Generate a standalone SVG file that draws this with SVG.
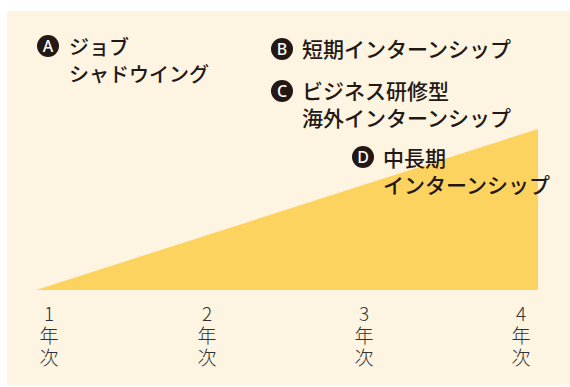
<svg xmlns="http://www.w3.org/2000/svg" width="570" height="387" viewBox="0 0 570 387">
<style>
.lbl{font-family:"Noto Sans CJK JP","Noto Sans",sans-serif;font-size:21px;fill:#231815;font-weight:500}
.lblA{font-size:20px}
.badge{fill:#231815}
.bt{font-family:"Noto Sans","Noto Sans CJK JP",sans-serif;font-size:16px;fill:#ffffff;font-weight:500;text-anchor:middle}
.ax{font-family:"Noto Sans CJK JP",sans-serif;font-size:19px;fill:#333333;font-weight:300;writing-mode:vertical-rl;text-orientation:upright;letter-spacing:3px}
</style>
<rect width="570" height="387" fill="#ffffff"/>
<rect x="7" y="11" width="563" height="374" fill="#fdf4e2"/>
<polygon points="36,290 538,129 538,290" fill="#fdd35f"/>
<g id="A">
<circle class="badge" cx="48" cy="46" r="11"/>
<text class="bt" x="48" y="51.8">A</text>
<text class="lbl lblA" x="69" y="55">ジョブ<tspan x="69" dy="27">シャドウイング</tspan></text>
</g>
<g id="B">
<circle class="badge" cx="282" cy="49" r="11"/>
<text class="bt" x="282" y="54.8">B</text>
<text class="lbl" x="302" y="57">短期インターンシップ</text>
</g>
<g id="C">
<circle class="badge" cx="282" cy="91" r="11"/>
<text class="bt" x="282" y="96.8">C</text>
<text class="lbl" x="302" y="98.5">ビジネス研修型<tspan x="302" dy="27.5">海外インターンシップ</tspan></text>
</g>
<g id="D">
<circle class="badge" cx="363" cy="157" r="11"/>
<text class="bt" x="363" y="162.8">D</text>
<text class="lbl" x="383" y="165.5">中長期<tspan x="383" dy="27.5">インターンシップ</tspan></text>
</g>
<g id="axis">
<text class="ax" x="49" y="304">1年次</text>
<text class="ax" x="207" y="304">2年次</text>
<text class="ax" x="364" y="304">3年次</text>
<text class="ax" x="521" y="304">4年次</text>
</g>
</svg>
